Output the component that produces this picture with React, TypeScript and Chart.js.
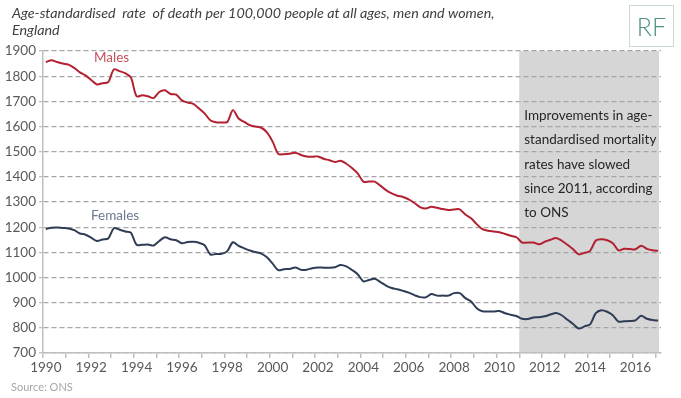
import React, { useEffect, useRef } from 'react';
import { Chart, registerables } from 'chart.js';

Chart.register(...registerables);

const firstYear = 1990;
const quarterCount = 109;
const quarterNames = ['Q1', 'Q2', 'Q3', 'Q4'];
const categories: string[] = [];
for (let i = 0; i < quarterCount; i++) {
  categories.push(`${firstYear + Math.floor(i / 4)} ${quarterNames[i % 4]}`);
}

const yearTicks = ['1990', '1992', '1994', '1996', '1998', '2000', '2002', '2004', '2006', '2008', '2010', '2012', '2014', '2016'];

const males = [
  1856, 1863, 1856, 1850, 1846, 1833, 1815, 1803, 1785, 1767,
  1772, 1776, 1827, 1820, 1812, 1795, 1720, 1724, 1720, 1713,
  1737, 1744, 1729, 1727, 1704, 1695, 1690, 1672, 1652, 1625,
  1617, 1616, 1618, 1665, 1632, 1618, 1605, 1600, 1595, 1577,
  1540, 1491, 1490, 1492, 1496, 1487, 1481, 1480, 1481, 1472,
  1466, 1459, 1464, 1452, 1435, 1414, 1381, 1381, 1381, 1365,
  1347, 1334, 1325, 1320, 1310, 1296, 1280, 1274, 1281, 1277,
  1272, 1268, 1270, 1271, 1250, 1235, 1212, 1192, 1186, 1183,
  1180, 1173, 1166, 1160, 1139, 1139, 1139, 1132, 1142, 1150,
  1157, 1146, 1130, 1112, 1092, 1098, 1106, 1147, 1152, 1148,
  1136, 1108, 1114, 1113, 1112, 1126, 1114, 1108, 1106,
];

const females = [
  1192, 1198, 1199, 1197, 1195, 1188, 1175, 1170, 1158, 1145,
  1151, 1155, 1196, 1190, 1183, 1178, 1130, 1130, 1131, 1127,
  1145, 1160, 1152, 1148, 1136, 1141, 1142, 1138, 1128, 1092,
  1093, 1094, 1105, 1140, 1126, 1116, 1107, 1101, 1095, 1080,
  1055, 1029, 1033, 1034, 1040, 1031, 1031, 1037, 1040, 1039,
  1039, 1041, 1050, 1044, 1030, 1013, 985, 990, 995, 982,
  968, 958, 953, 947, 940, 930, 922, 921, 934, 928,
  928, 928, 938, 938, 918, 905, 878, 866, 865, 865,
  867, 858, 852, 847, 836, 835, 841, 842, 846, 853,
  859, 850, 832, 815, 797, 806, 814, 858, 870, 864,
  850, 825, 826, 827, 830, 848, 836, 831, 829,
];

const shadeFrom = '2011 Q1';

const titleLines = [
  'Age-standardised  rate  of death per 100,000 people at all ages, men and women,',
  'England',
];
const noteLines = [
  'Improvements in age-',
  'standardised mortality',
  'rates have slowed',
  'since 2011, according',
  'to ONS',
];

const FONT = 'Lato, "Noto Sans", sans-serif';

const overlayPlugin = {
  id: 'overlay',
  beforeDraw(chart: any) {
    const { ctx, chartArea, scales } = chart;
    const xs = scales.x;
    const idx = categories.indexOf(shadeFrom);
    const step = (chartArea.right - chartArea.left) / categories.length;
    const x0 = xs.getPixelForValue(idx) - step / 2;
    ctx.save();
    ctx.fillStyle = '#d6d6d6';
    ctx.fillRect(x0, chartArea.top, chartArea.right - 2 - x0, chartArea.bottom - chartArea.top);
    ctx.restore();
  },
  afterDraw(chart: any) {
    const { ctx, chartArea, scales } = chart;
    const xs = scales.x;
    const idx = categories.indexOf(shadeFrom);
    const step = (chartArea.right - chartArea.left) / categories.length;
    const x0 = xs.getPixelForValue(idx) - step / 2;
    ctx.save();
    // title
    ctx.fillStyle = '#404040';
    ctx.font = `italic 14.3px ${FONT}`;
    ctx.textBaseline = 'alphabetic';
    ctx.textAlign = 'left';
    ctx.fillText(titleLines[0], 12, 18);
    ctx.fillText(titleLines[1], 12, 35);
    // logo
    ctx.strokeStyle = '#c9d9d3';
    ctx.lineWidth = 1;
    ctx.strokeRect(629.5, 5.5, 44, 41);
    ctx.fillStyle = '#4f8f86';
    ctx.font = `300 25px ${FONT}`;
    ctx.textAlign = 'center';
    ctx.fillText('RF', 651.5, 36);
    // note
    ctx.textAlign = 'left';
    ctx.fillStyle = '#262626';
    ctx.font = `13.5px ${FONT}`;
    noteLines.forEach((t, i) => ctx.fillText(t, x0 + 5, 120 + i * 24.3));
    // series labels
    ctx.font = `13.5px ${FONT}`;
    ctx.fillStyle = '#c4505c';
    ctx.fillText('Males', 94, 62);
    ctx.fillStyle = '#6a7890';
    ctx.fillText('Females', 91, 220);
    // source
    ctx.fillStyle = '#a6a6a6';
    ctx.font = `11px ${FONT}`;
    ctx.fillText('Source: ONS', 11, 391);
    ctx.restore();
  },
};

export default function App() {
  const ref = useRef<HTMLCanvasElement | null>(null);
  useEffect(() => {
    if (!ref.current) return;
    const chart = new Chart(ref.current, {
      type: 'line',
      data: {
        labels: categories,
        datasets: [
          {
            label: 'Males',
            data: males,
            borderColor: '#b3202f',
            borderWidth: 2,
            pointRadius: 0,
            tension: 0.3,
            fill: false,
          },
          {
            label: 'Females',
            data: females,
            borderColor: '#2f3c56',
            borderWidth: 2,
            pointRadius: 0,
            tension: 0.3,
            fill: false,
          },
        ],
      },
      options: {
        responsive: false,
        animation: false,
        events: [],
        layout: { padding: { left: 0, right: 20, top: 51, bottom: 0 } },
        plugins: {
          legend: { display: false },
          title: { display: false },
          tooltip: { enabled: false },
        },
        scales: {
          x: {
            type: 'category',
            offset: true,
            afterFit: (s: any) => { s.height = 45; },
            grid: {
              display: true,
              drawOnChartArea: false,
              offset: true,
              tickLength: 5,
              lineWidth: 1.5,
              color: (c: any) => (c.index % 4 === 0 ? '#bfbfbf' : 'rgba(0,0,0,0)'),
            },
            border: { display: true, color: '#bfbfbf', width: 1.5 },
            ticks: {
              autoSkip: false,
              maxRotation: 0,
              minRotation: 0,
              padding: 2,
              color: '#595959',
              font: { family: FONT, size: 13.5 },
              callback: (_v: any, i: number) => (i % 8 === 0 ? yearTicks[i / 8] ?? '' : ''),
            },
          },
          y: {
            min: 700,
            max: 1900,
            afterFit: (s: any) => { s.width = 43; },
            grid: {
              color: '#a6a6a6',
              lineWidth: 1.3,
              tickLength: 4,
              tickColor: '#bfbfbf',
              tickBorderDash: [],
            },
            border: { display: true, color: '#bfbfbf', width: 1.5, dash: [5, 3] },
            ticks: {
              stepSize: 100,
              padding: 3,
              color: '#595959',
              font: { family: FONT, size: 13.5 },
              callback: (v: any) => String(v),
            },
          },
        },
      },
      plugins: [overlayPlugin],
    });
    return () => chart.destroy();
  }, []);
  return (
    <div style={{ position: 'fixed', left: 0, top: 0, width: 681, height: 398, background: '#fff' }}>
      <canvas ref={ref} width={681} height={398} style={{ display: 'block', width: 681, height: 398 }} />
    </div>
  );
}
